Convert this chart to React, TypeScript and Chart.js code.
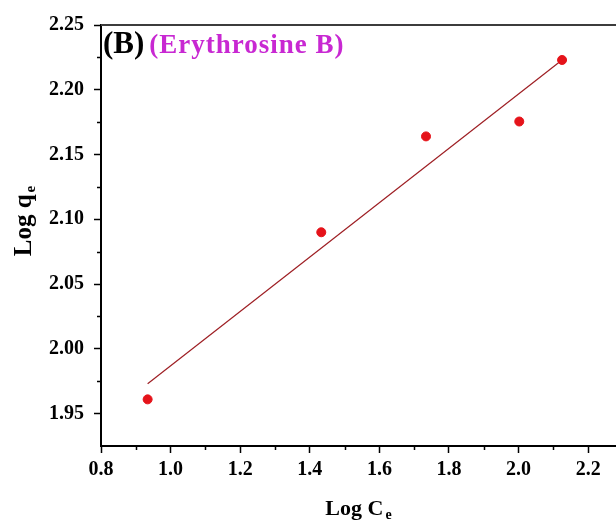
import React, { useEffect, useRef } from "react";
import { Chart, registerables } from "chart.js";

Chart.register(...registerables);

// ---- data ----
const logCe = [0.934, 1.433, 1.734, 2.002, 2.125];
const logQe = [1.961, 2.09, 2.164, 2.1755, 2.223];
const fitLogCe = [0.934, 2.125];
const fitLogQe = [1.973, 2.223];

const xTicks = [0.8, 1.0, 1.2, 1.4, 1.6, 1.8, 2.0, 2.2];
const xMinorTicks = [0.9, 1.1, 1.3, 1.5, 1.7, 1.9, 2.1];
const yTicks = [1.95, 2.0, 2.05, 2.1, 2.15, 2.2, 2.25];
const yMinorTicks = [1.975, 2.025, 2.075, 2.125, 2.175, 2.225];
const xRange = [0.8, 2.28];
const yRange = [1.925, 2.25];

const panelLabel = "(B)";
const dyeLabel = "(Erythrosine B)";
const xTitle = ["Log C", "e"];
const yTitle = ["Log q", "e"];

const SERIF = "'Liberation Serif', 'Times New Roman', serif";

const overlay = {
  id: "overlay",
  afterDraw(chart: any) {
    const ctx: CanvasRenderingContext2D = chart.ctx;
    const { left, right, top, bottom } = chart.chartArea;
    const xs = chart.scales.x;
    const ys = chart.scales.y;
    ctx.save();

    // top frame line
    ctx.strokeStyle = "#3c3c3c";
    ctx.lineWidth = 2;
    ctx.beginPath();
    ctx.moveTo(left, top);
    ctx.lineTo(right, top);
    ctx.stroke();

    // minor ticks
    ctx.strokeStyle = "#000";
    ctx.lineWidth = 1.5;
    ctx.beginPath();
    xMinorTicks.forEach((v) => {
      const px = Math.round(xs.getPixelForValue(v)) + 0.5;
      ctx.moveTo(px, bottom);
      ctx.lineTo(px, bottom + 4);
    });
    yMinorTicks.forEach((v) => {
      const py = Math.round(ys.getPixelForValue(v)) + 0.5;
      ctx.moveTo(left, py);
      ctx.lineTo(left - 4, py);
    });
    ctx.stroke();

    // panel label
    ctx.textBaseline = "alphabetic";
    ctx.textAlign = "left";
    ctx.fillStyle = "#000";
    ctx.font = `bold 31px ${SERIF}`;
    ctx.fillText(panelLabel, left + 2, top + 28);
    const wB = ctx.measureText(panelLabel).width;
    ctx.font = `bold 27px ${SERIF}`;
    (ctx as any).letterSpacing = "1px";
    ctx.fillStyle = "#c828d2";
    ctx.fillText(dyeLabel, left + 2 + wB + 5, top + 28);
    (ctx as any).letterSpacing = "0px";

    // x title with subscript
    ctx.fillStyle = "#000";
    ctx.font = `bold 22px ${SERIF}`;
    const wx1 = ctx.measureText(xTitle[0]).width;
    ctx.font = `bold 14px ${SERIF}`;
    const wx2 = ctx.measureText(xTitle[1]).width;
    const cx = (left + right) / 2;
    const sx = cx - (wx1 + 2 + wx2) / 2;
    ctx.font = `bold 22px ${SERIF}`;
    ctx.fillText(xTitle[0], sx, 515);
    ctx.font = `bold 14px ${SERIF}`;
    ctx.fillText(xTitle[1], sx + wx1 + 2, 519);

    // y title rotated with subscript
    ctx.translate(31, 221);
    ctx.rotate(-Math.PI / 2);
    ctx.font = `bold 25px ${SERIF}`;
    const wy1 = ctx.measureText(yTitle[0]).width;
    ctx.font = `bold 15px ${SERIF}`;
    const wy2 = ctx.measureText(yTitle[1]).width;
    const sy = -(wy1 + 2 + wy2) / 2;
    ctx.font = `bold 25px ${SERIF}`;
    ctx.fillText(yTitle[0], sy, 0);
    ctx.font = `bold 15px ${SERIF}`;
    ctx.fillText(yTitle[1], sy + wy1 + 2, 4);

    ctx.restore();
  },
};

export default function App() {
  const ref = useRef<HTMLCanvasElement | null>(null);

  useEffect(() => {
    if (!ref.current) return;
    const chart = new Chart(ref.current, {
      type: "scatter",
      data: {
        datasets: [
          {
            label: "data",
            data: logCe.map((x, i) => ({ x, y: logQe[i] })),
            backgroundColor: "#e5131a",
            borderColor: "#e5131a",
            pointRadius: 4.5,
            pointHoverRadius: 4.5,
            order: 1,
          },
          {
            label: "fit",
            data: fitLogCe.map((x, i) => ({ x, y: fitLogQe[i] })),
            showLine: true,
            borderColor: "#9e1f24",
            borderWidth: 1.2,
            pointRadius: 0,
            fill: false,
            order: 2,
          },
        ],
      },
      options: {
        animation: false,
        responsive: false,
        layout: { autoPadding: false, padding: { top: 25, right: 0, left: 0, bottom: 0 } },
        plugins: {
          legend: { display: false },
          tooltip: { enabled: false },
        },
        scales: {
          x: {
            type: "linear",
            min: xRange[0],
            max: xRange[1],
            afterBuildTicks: (s: any) => {
              s.ticks = xTicks.map((v) => ({ value: v }));
            },
            afterFit: (s: any) => {
              s.height = 76;
              s.paddingLeft = 0;
              s.paddingRight = 0;
            },
            grid: {
              drawOnChartArea: false,
              drawTicks: true,
              tickLength: 7,
              tickColor: "#000",
              tickWidth: 1.5,
            },
            border: { display: true, color: "#000", width: 2 },
            ticks: {
              color: "#000",
              padding: 5,
              maxRotation: 0,
              font: { family: SERIF, weight: "bold", size: 20 },
              callback: (v: any) => Number(v).toFixed(1),
            },
          },
          y: {
            type: "linear",
            min: yRange[0],
            max: yRange[1],
            afterBuildTicks: (s: any) => {
              s.ticks = yTicks.map((v) => ({ value: v }));
            },
            afterFit: (s: any) => {
              s.width = 101;
              s.paddingTop = 0;
              s.paddingBottom = 0;
            },
            grid: {
              drawOnChartArea: false,
              drawTicks: true,
              tickLength: 7,
              tickColor: "#000",
              tickWidth: 1.5,
            },
            border: { display: true, color: "#000", width: 2 },
            ticks: {
              color: "#000",
              padding: 10,
              font: { family: SERIF, weight: "bold", size: 20 },
              callback: (v: any) => Number(v).toFixed(2),
            },
          },
        },
      },
      plugins: [overlay],
    } as any);
    return () => chart.destroy();
  }, []);

  return (
    <div style={{ position: "fixed", left: 0, top: 0, width: 616, height: 522, background: "#fff" }}>
      <canvas ref={ref} width={616} height={522} />
    </div>
  );
}
